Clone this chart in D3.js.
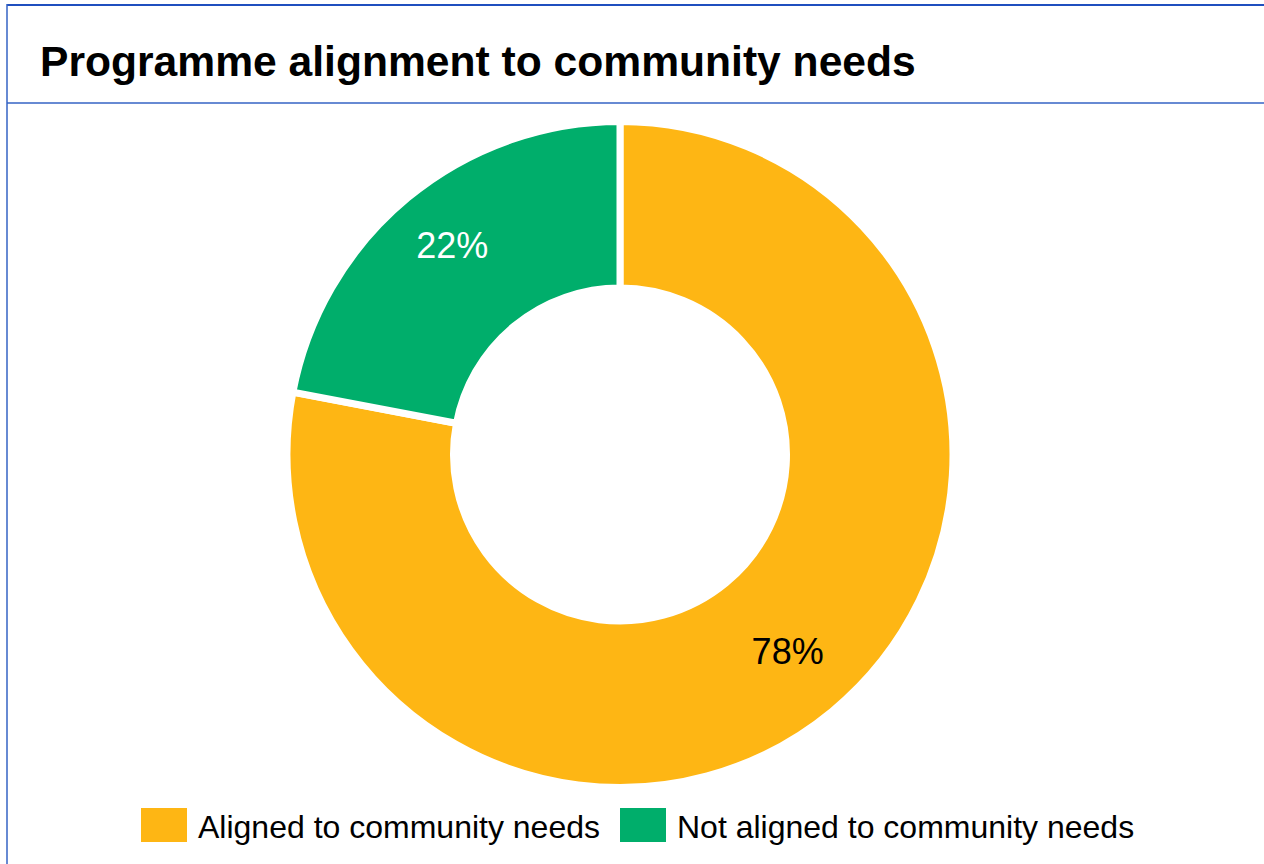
<!DOCTYPE html>
<html>
<head>
<meta charset="utf-8">
<script src="https://cdn.jsdelivr.net/npm/d3@7/dist/d3.min.js"></script>
<style>
  html, body { margin: 0; padding: 0; background: #fff; }
  svg { display: block; font-family: "Liberation Sans", Arial, sans-serif; }
</style>
</head>
<body>
<svg id="chart" width="1264" height="864"></svg>
<script>
const title = "Programme alignment to community needs";
const categories = ["Aligned to community needs", "Not aligned to community needs"];
const values = [78, 22];
const colors = ["#FEB614", "#00AE6B"];
const labelColors = ["#000000", "#FFFFFF"];

const svg = d3.select("#chart");
const W = 1264, H = 864;

// frame
const frameColor = "#3563C4";
svg.append("line").attr("x1", 7).attr("x2", W).attr("y1", 5).attr("y2", 5)
  .attr("stroke", "#1F4FBF").attr("stroke-width", 2);
svg.append("line").attr("x1", 7).attr("x2", 7).attr("y1", 4).attr("y2", H)
  .attr("stroke", frameColor).attr("stroke-width", 1.5);
svg.append("line").attr("x1", 7).attr("x2", W).attr("y1", 103).attr("y2", 103)
  .attr("stroke", frameColor).attr("stroke-width", 1.5);

// title
svg.append("text").attr("x", 40).attr("y", 76)
  .attr("font-size", 42.6).attr("font-weight", "bold").attr("fill", "#000")
  .text(title);

// donut
const cx = 620, cy = 454.5, R = 333, r = 166.5;
const pie = d3.pie().sort(null).value(d => d)(values);
const arc = d3.arc().innerRadius(r).outerRadius(R);
const labelArc = d3.arc().innerRadius(263).outerRadius(263);

const g = svg.append("g").attr("transform", `translate(${cx},${cy})`);
g.selectAll("path").data(pie).join("path")
  .attr("d", arc)
  .attr("fill", (d, i) => colors[i])
  .attr("stroke", "#fff").attr("stroke-width", 7).attr("stroke-linejoin", "miter");

g.selectAll("text.lbl").data(pie).join("text")
  .attr("class", "lbl")
  .attr("transform", d => `translate(${labelArc.centroid(d)})`)
  .attr("dy", -6)
  .attr("text-anchor", "middle").attr("dominant-baseline", "central")
  .attr("font-size", 36).attr("fill", (d, i) => labelColors[i])
  .text(d => d.data + "%");

// legend
const legendX = [141, 620];
const lg = svg.append("g");
categories.forEach((c, i) => {
  lg.append("rect").attr("x", legendX[i]).attr("y", 808).attr("width", 46).attr("height", 34)
    .attr("fill", colors[i]);
  lg.append("text").attr("x", legendX[i] + 57).attr("y", 838)
    .attr("font-size", 32).attr("fill", "#000").text(c);
});
</script>
</body>
</html>
